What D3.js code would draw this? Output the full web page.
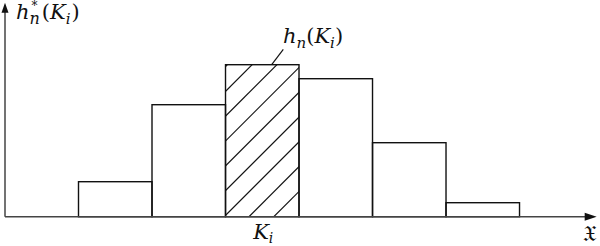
<!DOCTYPE html>
<html>
<head>
<meta charset="utf-8">
<script src="https://cdn.jsdelivr.net/npm/d3@7"></script>
<style>
  body { margin: 0; background: #fff; }
</style>
</head>
<body>
<svg id="chart" width="600" height="246"></svg>
<script>
// bins in units of bin width, heights in arbitrary units
const binStarts = [1, 2, 3, 4, 5, 6];
const heights = [3.5, 11.2, 15.2, 13.8, 7.4, 1.4];
const highlighted = 2; // K_i

const serif = "'DejaVu Serif', 'Liberation Serif', serif";

const svg = d3.select("#chart"),
  width = +svg.attr("width"),
  height = +svg.attr("height");

svg.append("rect").attr("width", width).attr("height", height).attr("fill", "#fff");

const x = d3.scaleLinear().domain([0, 8.05]).range([5, 596.7]);
const y = d3.scaleLinear().domain([0, 21.4]).range([216.7, 2.7]);

const bars = binStarts.map(function (s, i) {
  return { x0: s, x1: s + 1, h: heights[i], i: i };
});

// hatch clip for the highlighted bin
const hb = bars[highlighted];
svg
  .append("clipPath")
  .attr("id", "hclip")
  .append("rect")
  .attr("x", x(hb.x0))
  .attr("y", y(hb.h))
  .attr("width", x(hb.x1) - x(hb.x0))
  .attr("height", y(0) - y(hb.h));

// diagonal lines x + y = c
const step = 24.8;
const cMin = x(hb.x0) + y(hb.h),
  cMax = x(hb.x1) + y(0);
const cs = d3.range(cMin + 1.9, cMax, step);
svg
  .append("g")
  .attr("clip-path", "url(#hclip)")
  .selectAll("line")
  .data(cs)
  .join("line")
  .attr("x1", function (c) { return c - y(0); })
  .attr("y1", y(0))
  .attr("x2", function (c) { return c - y(hb.h); })
  .attr("y2", y(hb.h))
  .attr("stroke", "#111")
  .attr("stroke-width", 1.2);

svg
  .append("g")
  .selectAll("rect")
  .data(bars)
  .join("rect")
  .attr("x", function (d) { return x(d.x0); })
  .attr("y", function (d) { return y(d.h); })
  .attr("width", function (d) { return x(d.x1) - x(d.x0); })
  .attr("height", function (d) { return y(0) - y(d.h); })
  .attr("fill", "none")
  .attr("stroke", "#111")
  .attr("stroke-width", 1.4);

// axes with arrow heads
const axisColor = "#444";
svg
  .append("line")
  .attr("x1", x(0)).attr("y1", y(0))
  .attr("x2", x(8.05) - 10).attr("y2", y(0))
  .attr("stroke", axisColor).attr("stroke-width", 1.5);
svg
  .append("line")
  .attr("x1", x(0)).attr("y1", y(0))
  .attr("x2", x(0)).attr("y2", y(21.4) + 8)
  .attr("stroke", axisColor).attr("stroke-width", 1.5);

svg
  .append("path")
  .attr("d", `M${x(8.05)},${y(0)} L${x(8.05) - 12},${y(0) - 4} L${x(8.05) - 12},${y(0) + 4} Z`)
  .attr("fill", "#111");
svg
  .append("path")
  .attr("d", `M${x(0)},${y(21.4)} L${x(0) - 3.5},${y(21.4) + 10} L${x(0) + 3.5},${y(21.4) + 10} Z`)
  .attr("fill", "#111");

// labels
function label(xp, yp, size) {
  return svg
    .append("text")
    .attr("x", xp)
    .attr("y", yp)
    .attr("font-size", size)
    .attr("font-family", serif)
    .attr("fill", "#111");
}

const yl = label(16, 19, 21);
yl.append("tspan").attr("font-style", "italic").text("h");
yl.append("tspan").attr("font-size", 12).attr("dx", 2).attr("dy", -9).text("*");
yl.append("tspan").attr("font-style", "italic").attr("font-size", 16).attr("dx", -8).attr("dy", 14).text("n");
yl.append("tspan").attr("dx", 2).attr("dy", -5).text("(");
yl.append("tspan").attr("font-style", "italic").text("K");
yl.append("tspan").attr("font-style", "italic").attr("font-size", 15).attr("dy", 5).text("i");
yl.append("tspan").attr("dx", 1).attr("dy", -5).text(")");

const hl = label(283, 43, 21);
hl.append("tspan").attr("font-style", "italic").text("h");
hl.append("tspan").attr("font-style", "italic").attr("font-size", 15).attr("dy", 5).text("n");
hl.append("tspan").attr("dy", -5).text("(");
hl.append("tspan").attr("font-style", "italic").text("K");
hl.append("tspan").attr("font-style", "italic").attr("font-size", 15).attr("dy", 5).text("i");
hl.append("tspan").attr("dy", -5).text(")");

svg
  .append("line")
  .attr("x1", 283.3).attr("y1", 49.3)
  .attr("x2", 271.7).attr("y2", y(hb.h))
  .attr("stroke", "#111").attr("stroke-width", 1.2);

const kl = label((x(hb.x0) + x(hb.x1)) / 2 + 1, 239, 21).attr("text-anchor", "middle");
kl.append("tspan").attr("font-style", "italic").text("K");
kl.append("tspan").attr("font-style", "italic").attr("font-size", 14).attr("dy", 4).text("i");

label(589, 241, 22).attr("text-anchor", "middle").text("𝔛");
</script>
</body>
</html>
